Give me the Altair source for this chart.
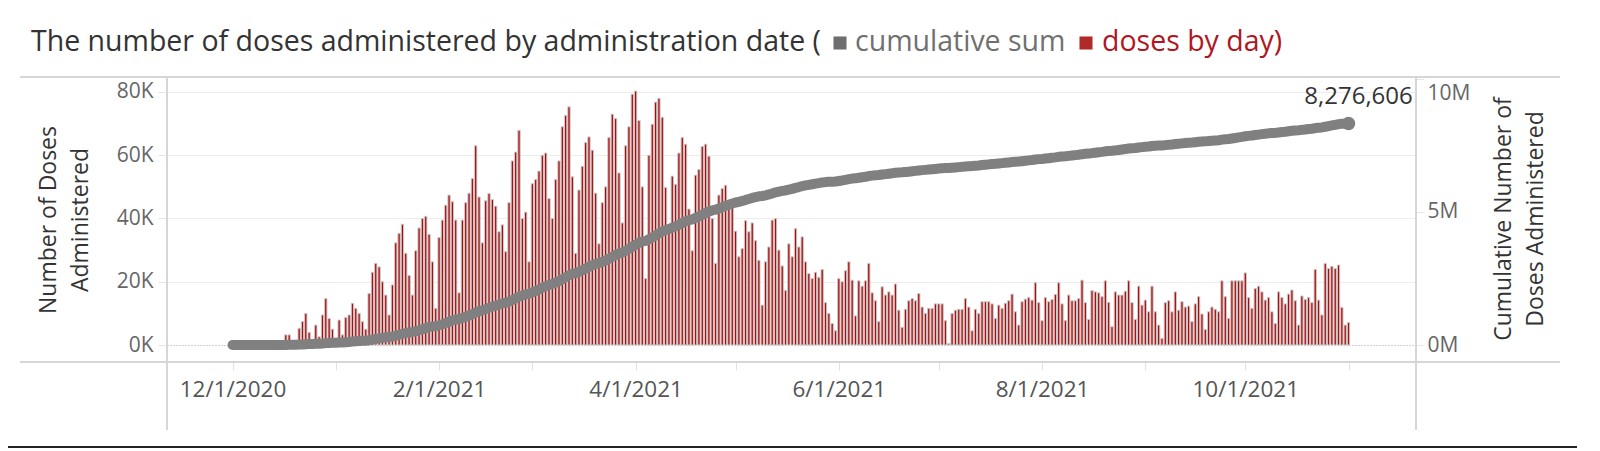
import altair as alt
import pandas as pd

# ---------------- data (thousands of doses per day) ----------------
start_date = "2020-12-01"
doses_dec_2020 = [0, 0, 0, 0, 0, 0, 0, 0, 0, 0, 0, 0, 0, 0, 0, 0,
                  3.2, 3.2, 1.0, 1.5, 5.3, 7.4, 10.0, 4.0, 1.5, 6.3, 2.6, 9.5, 14.7, 8.4, 5.0]
doses_jan_2021 = [2.0, 7.9, 3.2, 8.7, 9.5, 13.2, 11.6, 10.0, 7.4, 5.0, 16.3, 23.0, 25.8, 24.7, 20.0, 15.8,
                  9.5, 19.0, 32.3, 35.3, 38.2, 29.0, 22.0, 15.8, 29.8, 37.0, 40.0, 40.7, 35.0, 26.3, 11.6]
doses_feb_2021 = [34.0, 39.5, 44.2, 47.4, 45.3, 39.5, 16.5, 39.5, 45.0, 48.0, 52.6, 63.0, 46.8, 32.3,
                  45.6, 47.9, 46.0, 43.9, 35.8, 38.0, 29.5, 45.0, 58.2, 61.0, 67.9, 40.0, 42.0, 26.3]
doses_mar_2021 = [51.0, 52.3, 55.0, 60.0, 60.7, 46.3, 40.0, 52.3, 58.2, 69.0, 72.6, 75.3, 53.2, 29.0, 49.0,
                  56.5, 64.0, 65.8, 61.6, 48.0, 32.0, 45.0, 50.0, 65.6, 73.0, 71.6, 54.4, 38.6, 63.0, 69.0, 79.3]
doses_apr_2021 = [80.3, 71.0, 50.0, 21.0, 60.0, 69.8, 76.8, 78.0, 72.0, 49.8, 38.0, 53.4, 50.8, 60.7, 65.6,
                  63.5, 43.0, 29.8, 53.7, 55.5, 62.8, 63.5, 59.7, 40.0, 25.8, 47.4, 49.5, 50.5, 43.9, 43.9]
doses_may_2021 = [36.0, 27.9, 30.5, 39.3, 35.8, 38.6, 33.0, 26.8, 12.6, 26.3, 31.0, 39.5, 40.0, 30.0, 25.0, 17.2,
                  32.0, 27.9, 36.8, 31.0, 34.2, 26.3, 22.6, 21.0, 23.0, 21.4, 23.9, 13.4, 10.0, 6.8, 4.5]
doses_jun_2021 = [21.0, 20.0, 23.5, 26.3, 20.5, 9.2, 20.3, 18.6, 20.3, 25.8, 16.5, 14.0, 7.4, 18.4, 15.8,
                  16.8, 15.8, 19.3, 11.0, 5.6, 11.3, 14.0, 14.7, 14.0, 16.3, 12.0, 10.0, 11.6, 11.6, 13.0]
doses_jul_2021 = [13.0, 13.0, 7.7, 0.5, 10.0, 11.0, 11.3, 11.3, 14.7, 12.0, 4.5, 11.3, 10.0, 13.7, 13.7, 13.7,
                  13.0, 8.4, 12.6, 11.6, 13.2, 14.0, 16.1, 10.5, 6.3, 13.7, 14.5, 15.0, 14.2, 19.7, 13.4]
doses_aug_2021 = [7.7, 15.0, 13.7, 14.4, 16.0, 19.7, 13.0, 7.7, 15.8, 14.0, 14.0, 14.7, 20.5, 13.4, 8.1, 17.2,
                  16.8, 16.5, 15.3, 20.3, 13.5, 5.8, 16.8, 15.8, 15.8, 17.0, 20.3, 13.4, 8.1, 18.6, 12.6]
doses_sep_2021 = [14.2, 10.5, 18.6, 10.5, 6.3, 2.1, 13.4, 14.0, 10.5, 16.8, 11.0, 13.7, 12.0, 12.3, 7.4,
                  13.0, 15.3, 9.8, 4.9, 10.5, 12.0, 11.3, 10.5, 20.3, 15.3, 8.4, 20.3, 20.3, 20.3, 20.3]
doses_oct_2021 = [22.8, 15.0, 11.6, 17.9, 18.6, 16.8, 14.2, 15.0, 10.5, 6.8, 16.8, 15.0, 13.0, 16.1, 17.4, 14.0,
                  6.3, 15.5, 14.4, 15.0, 13.4, 23.9, 14.2, 9.5, 25.8, 24.2, 24.9, 24.2, 25.3, 11.9, 6.3]
doses_nov_2021 = [7.1]

total_label = "8,276,606"
left_ticks = [0, 20, 40, 60, 80]          # thousands
right_ticks = [0, 5000, 10000]            # thousands
month_ticks = [(2020, 12)] + [(2021, m) for m in range(1, 12)]

title_main = "The number of doses administered by administration date ("
title_cum = "cumulative sum"
title_day = "doses by day)"
left_title = ["Number of Doses", "Administered"]
right_title = ["Cumulative Number of", "Doses Administered"]

# ---------------- build table ----------------
doses = (doses_dec_2020 + doses_jan_2021 + doses_feb_2021 + doses_mar_2021 + doses_apr_2021 +
         doses_may_2021 + doses_jun_2021 + doses_jul_2021 + doses_aug_2021 + doses_sep_2021 +
         doses_oct_2021 + doses_nov_2021)
dates = pd.date_range(start_date, periods=len(doses), freq="D")
df = pd.DataFrame({"date": dates.strftime("%Y-%m-%dT00:00:00"), "doses": doses})
df["label"] = ""
df.loc[df.index[-1], "label"] = total_label

FONT = "Open Sans"
RED = "#ad0c0c"
GREY_LINE = "#808080"

W, H = 1249, 285

xscale = alt.Scale(domain=[alt.DateTime(year=2020, month=11, date=12, hours=20),
                           alt.DateTime(year=2021, month=11, date=19, hours=18)], nice=False)
xaxis = alt.Axis(
    values=[alt.DateTime(year=y, month=m, date=1) for y, m in month_ticks],
    labelExpr="month(datum.value) % 2 == 1 ? timeFormat(datum.value, '%-m/%-d/%Y') : ''",
    title=None, domain=False, grid=False, tickSize=8, tickColor="#e2e2e2", tickWidth=1,
    labelFont=FONT, labelFontSize=22.5, labelColor="#555555", labelPadding=8,
    labelFlush=False, labelOverlap=False,
)
X = alt.X("date:T", scale=xscale, axis=xaxis)

base = alt.Chart(df)

left_axis = alt.Axis(
    values=left_ticks, labelExpr="datum.value + 'K'",
    title=left_title, titleFont=FONT, titleFontSize=23, titleFontWeight="normal", titleColor="#333333",
    titleAngle=270, titleX=-119, titleY=H / 2, titleAlign="center", titleBaseline="middle", titleLineHeight=32,
    grid=True,
    gridColor={"condition": {"test": "datum.value === 0", "value": "#a8a8a8"}, "value": "#ededed"},
    gridDash={"condition": {"test": "datum.value === 0", "value": [1, 2]}, "value": []},
    gridWidth=1.2,
    domain=False, tickSize=9, tickColor="#e6e6e6", labelPadding=5,
    labelFont=FONT, labelFontSize=21, labelColor="#666666", labelOverlap=False,
)

bars = base.transform_filter("datum.doses > 0").mark_bar(
    size=2.3, color=RED, stroke="#cccccc", strokeWidth=1
).encode(
    x=X,
    y=alt.Y("doses:Q", scale=alt.Scale(domain=[-5.375, 84.74], nice=False, zero=False), axis=left_axis),
)

right_axis = alt.Axis(
    orient="right", values=right_ticks, labelExpr="datum.value / 1000 + 'M'",
    labelOffset={"condition": {"test": "datum.value > 9000", "value": 15}, "value": 0},
    title=right_title, titleFont=FONT, titleFontSize=23, titleFontWeight="normal", titleColor="#333333",
    titleAngle=270, titleX=87, titleY=H / 2 - 1, titleAlign="center", titleBaseline="middle", titleLineHeight=32,
    grid=False, domain=False, tickSize=8, tickColor="#e6e6e6", labelPadding=3,
    labelFont=FONT, labelFontSize=21, labelColor="#666666", labelOverlap=False,
)
cum_scale = alt.Scale(domain=[-639, 10075], nice=False, zero=False)
Ycum = alt.Y("cum:Q", scale=cum_scale, axis=right_axis)

cum_base = base.transform_window(cum="sum(doses)", frame=[None, 0], sort=[alt.SortField("date")])
line = cum_base.mark_line(color=GREY_LINE, strokeWidth=10, strokeCap="round", strokeJoin="round").encode(
    x=X, y=Ycum
)
endpoint = cum_base.transform_filter("datum.label != ''").mark_circle(size=180, color=GREY_LINE, opacity=1).encode(
    x=X, y=Ycum
)
end_label = cum_base.transform_filter("datum.label != ''").mark_text(
    dy=-19, dx=10, align="center", baseline="alphabetic", font=FONT, fontSize=24, color="#333333"
).encode(x=X, y=Ycum, text="label:N")

cum_layer = alt.layer(line, endpoint, end_label)

one = pd.DataFrame({"k": [0]})
def rule(x1, x2, y1, y2, color="#d6d6d6", width=2):
    return alt.Chart(one).mark_rule(color=color, strokeWidth=width).encode(
        x=alt.value(x1), x2=alt.value(x2), y=alt.value(y1), y2=alt.value(y2))

frame = [
    rule(-147, 1393, 0, 0),
    rule(-147, 1393, H, H),
    rule(0, 0, 0, 353),
    rule(W, W, 0, 353),
    rule(-159, 1410, 370, 370, color="#222222", width=2),
]

def ttext(txt, x, color):
    return alt.Chart(pd.DataFrame({"t": [txt]})).mark_text(
        align="left", baseline="alphabetic", font=FONT, fontSize=28.5, color=color
    ).encode(x=alt.value(x), y=alt.value(-26), text="t:N")

def tsquare(x, color):
    return alt.Chart(one).mark_square(size=170, color=color, opacity=1).encode(
        x=alt.value(x), y=alt.value(-34))

title_layers = [
    ttext(title_main, -136, "#333333"),
    tsquare(673, "#6e6e6e"),
    ttext(title_cum, 688, "#707070"),
    tsquare(919, "#b02a2a"),
    ttext(title_day, 935, "#b0171f"),
]

chart = alt.layer(
    *frame, bars, cum_layer, *title_layers
).resolve_scale(y="independent").properties(
    width=W, height=H,
    autosize=alt.AutoSizeParams(type="none"),
    padding={"left": 159, "top": 69, "right": 176, "bottom": 86},
    background="white",
).configure_view(stroke=None)

chart.save("out.html", embed_options={"renderer": "svg", "actions": False})
